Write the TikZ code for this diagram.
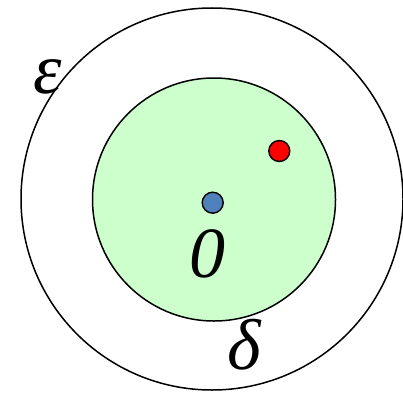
\documentclass[tikz,border=0pt]{standalone}
\usepackage{fontspec}
\setmainfont{Liberation Serif}
\definecolor{ballgreen}{HTML}{CCFFCC}
\definecolor{dotblue}{HTML}{4F81BD}
\begin{document}
\begin{tikzpicture}[x=1pt,y=-1pt,
  ring/.style={circle,draw=black,line width=1.5pt,inner sep=0pt},
  pt/.style={circle,draw=black,line width=1.4pt,inner sep=0pt,minimum size=21pt},
  lbl/.style={inner sep=0pt,font=\fontsize{72}{72}\selectfont\itshape}]
\useasboundingbox (0,0) rectangle (403,396);
\node[ring,minimum size=382pt] (outer) at (212,199) {};
\node[ring,fill=ballgreen,minimum size=243pt] (inner) at (214,199.5) {};
\node[pt,fill=dotblue] (zero) at (212.7,202.7) {};
\node[pt,fill=red] (p) at (279.3,151) {};
\node[lbl] (eps) at (48,77) {ε};
\node[lbl] (zl) at (207,254) {0};
\node[lbl] (del) at (244,345) {δ};
\end{tikzpicture}
\end{document}
